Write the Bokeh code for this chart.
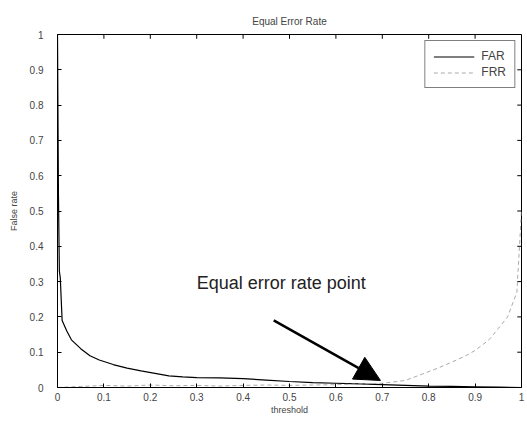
from bokeh.plotting import figure
from bokeh.models import Range1d, Arrow, NormalHead, Label, Legend, LegendItem, FixedTicker
from bokeh.embed import file_html
from bokeh.resources import INLINE

# Data
thr_far = [0, 0.002, 0.004, 0.006, 0.01, 0.02, 0.03, 0.05, 0.07, 0.09, 0.12, 0.15,
           0.18, 0.21, 0.24, 0.27, 0.3, 0.35, 0.4, 0.45, 0.5, 0.55, 0.6, 0.65, 0.7,
           0.75, 0.8, 0.85, 0.9, 0.95, 1.0]
far = [1.0, 0.55, 0.33, 0.31, 0.19, 0.16, 0.135, 0.11, 0.09, 0.078, 0.065, 0.055,
       0.047, 0.04, 0.033, 0.03, 0.028, 0.027, 0.025, 0.021, 0.017, 0.014, 0.012, 0.01, 0.008,
       0.006, 0.004, 0.003, 0.002, 0.001, 0.0]

thr_frr = [0, 0.05, 0.1, 0.15, 0.2, 0.25, 0.3, 0.35, 0.4, 0.45, 0.5, 0.55, 0.6, 0.65,
           0.7, 0.75, 0.78, 0.82, 0.85, 0.88, 0.9, 0.93, 0.95, 0.97, 0.99, 1.0]
frr = [0, 0.003, 0.006, 0.004, 0.007, 0.005, 0.006, 0.004, 0.006, 0.007, 0.006, 0.007,
       0.008, 0.01, 0.012, 0.02, 0.035, 0.055, 0.072, 0.09, 0.105, 0.135, 0.167, 0.2, 0.27, 0.5]

tick_values = [0, 0.1, 0.2, 0.3, 0.4, 0.5, 0.6, 0.7, 0.8, 0.9, 1]
tick_labels = {0: "0", 0.1: "0.1", 0.2: "0.2", 0.3: "0.3", 0.4: "0.4", 0.5: "0.5",
               0.6: "0.6", 0.7: "0.7", 0.8: "0.8", 0.9: "0.9", 1: "1"}

eer_text = "Equal error rate point"
eer_text_pos = (0.3, 0.297)
eer_arrow_start = (0.466, 0.19)
eer_arrow_end = (0.696, 0.02)

FONT = "Liberation Sans"
TICK_LEN = 0.012  # length of the inner ticks on the top/right frame edges (axis units)

p = figure(width=525, height=418, output_backend="svg", toolbar_location=None,
           x_range=Range1d(0, 1), y_range=Range1d(0, 1),
           min_border_left=57, min_border_top=34, min_border_right=4, min_border_bottom=31,
           title="Equal Error Rate")
p.title.align = "center"
p.title.text_font = FONT
p.title.text_font_size = "10px"
p.title.text_font_style = "normal"
p.title.text_color = "#444444"
p.title.standoff = 15
p.xgrid.visible = False
p.ygrid.visible = False
p.outline_line_color = "black"
p.outline_line_width = 1

for ax in (p.xaxis[0], p.yaxis[0]):
    ax.ticker = FixedTicker(ticks=tick_values)
    ax.major_label_overrides = tick_labels
    ax.major_tick_in = 4
    ax.major_tick_out = 0
    ax.minor_tick_line_color = None
    ax.major_label_text_font = FONT
    ax.major_label_text_font_size = "10px"
    ax.major_label_text_color = "#444444"
    ax.axis_label_text_font = FONT
    ax.axis_label_text_font_size = "9px"
    ax.axis_label_text_font_style = "normal"
    ax.axis_label_text_color = "#444444"
    ax.axis_line_color = "black"

p.xaxis[0].axis_label = "threshold"
p.xaxis[0].major_label_standoff = 5
p.xaxis[0].axis_label_standoff = 1
p.yaxis[0].axis_label = "False rate"
p.yaxis[0].major_label_standoff = 14
p.yaxis[0].axis_label_standoff = 8

# inner ticks on the top and right edges of the box (MATLAB style)
n = len(tick_values)
p.segment(x0=tick_values, y0=[1] * n, x1=tick_values, y1=[1 - TICK_LEN] * n,
          line_color="black", line_width=1)
p.segment(x0=[1] * n, y0=tick_values, x1=[1 - TICK_LEN * 0.76] * n, y1=tick_values,
          line_color="black", line_width=1)

r_far = p.line(thr_far, far, line_color="black", line_width=1.2)
r_frr = p.line(thr_frr, frr, line_color="#aaaaaa", line_width=1, line_dash="4 3")

legend = Legend(items=[LegendItem(label="FAR", renderers=[r_far]),
                       LegendItem(label="FRR", renderers=[r_frr])],
                location="top_right")
legend.label_text_font = FONT
legend.label_text_font_size = "12px"
legend.label_text_color = "#444444"
legend.glyph_width = 41
legend.glyph_height = 13
legend.label_height = 13
legend.label_standoff = 7
legend.spacing = 2
legend.padding = 8
legend.margin = 6
legend.border_line_color = "black"
legend.border_line_width = 1
p.add_layout(legend)

p.add_layout(Arrow(end=NormalHead(size=25, fill_color="black", line_color="black"),
                   x_start=eer_arrow_start[0], y_start=eer_arrow_start[1],
                   x_end=eer_arrow_end[0], y_end=eer_arrow_end[1],
                   line_width=2.5, line_color="black"))
p.add_layout(Label(x=eer_text_pos[0], y=eer_text_pos[1], text=eer_text,
                   text_font=FONT, text_font_size="18px", text_baseline="middle",
                   text_color="#222222"))

open("out.html", "w").write(file_html(p, INLINE))
